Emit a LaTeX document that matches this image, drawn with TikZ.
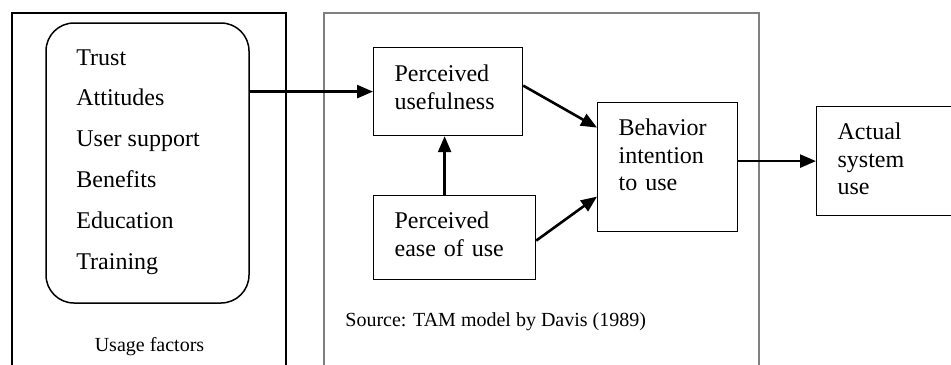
\documentclass[tikz,border=0pt]{standalone}
\usepackage{fontspec}
\setmainfont{Liberation Serif}
\usetikzlibrary{arrows.meta, positioning, calc}

\begin{document}
\begin{tikzpicture}[
    x=0.5pt, y=-0.5pt,
    box/.style={draw, line width=0.6pt, align=left, anchor=north west,
        inner xsep=10.5pt, inner ysep=0pt,
        font=\fontsize{12}{13.75}\selectfont},
    item/.style={anchor=base west, inner sep=0pt, font=\fontsize{12}{14}\selectfont},
    note/.style={anchor=base west, inner sep=0pt, font=\fontsize{10}{12}\selectfont},
    arr/.style={-{Triangle[length=8pt, width=6.5pt]}, line width=1.3pt},
]
\useasboundingbox (0,0) rectangle (951,364);
\clip (0,0) rectangle (951,364);

% frames, open at the bottom
\draw[line width=1pt] (12,13) rectangle (286,380);
\draw[gray, line width=0.6pt] (324,13) rectangle (759,380);

% usage factors
\node[draw, line width=0.75pt, rounded corners=14pt, minimum width=101.5pt,
    minimum height=140pt, inner sep=0pt] (factors) at (147.5,163) {};
\foreach \lbl [count=\i] in {Trust, Attitudes, User support, Benefits, Education, Training}
    \node[item] (f\i) at (76,{65+40.8*(\i-1)}) {\lbl};
\node[note, anchor=base] (usage) at (149.5,351) {Usage factors};

% TAM
\node[box, text width=53.5pt, text height=17pt, text depth=27pt] (pu) at (373,47) {Perceived\\usefulness};
\node[box, text width=60pt, text height=16.5pt, text depth=25.5pt] (pe) at (373,195) {Perceived\\ease of use};
\node[box, text width=49pt, text height=16.5pt, text depth=48pt] (bi) at (597,102) {Behavior\\intention\\to use};
\node[box, text width=51pt, text height=16.5pt, text depth=38pt] (act) at (816,106) {Actual\\system\\use};
\node[note] (src) at (345,326) {Source: TAM model by Davis (1989)};

% arrows
\draw[arr] (factors.east |- pu.west) -- (pu.west);
\draw[arr] ([xshift=-1.75pt]pu.south |- pe.north) -- ([xshift=-1.75pt]pu.south);
\draw[arr] ([yshift=3pt]pu.east) -- ([yshift=19.75pt]bi.west);
\draw[arr] ([yshift=-1.5pt]pe.east) -- ([yshift=-14.75pt]bi.west);
\draw[arr] (bi.east |- act.west) -- (act.west);

\end{tikzpicture}
\end{document}
